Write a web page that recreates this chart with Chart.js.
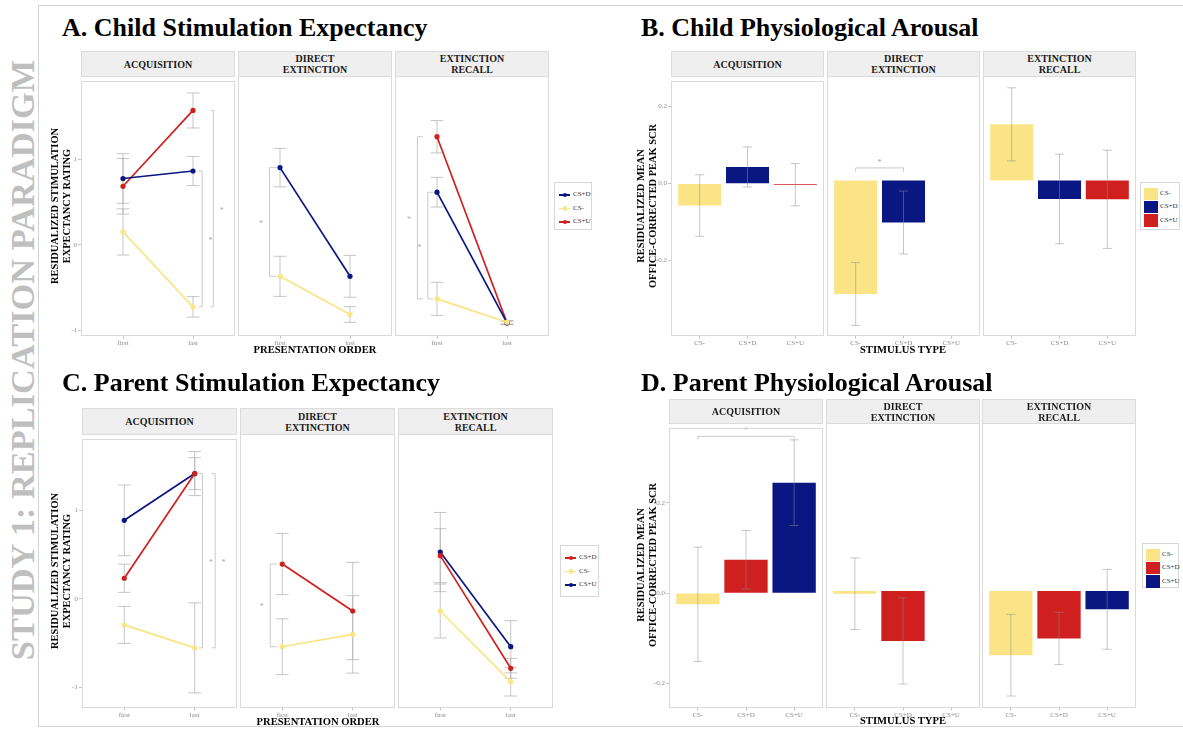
<!DOCTYPE html>
<html><head><meta charset="utf-8">
<script src="https://cdn.jsdelivr.net/npm/chart.js@4.4.1/dist/chart.umd.min.js"></script>
<style>
html,body{margin:0;padding:0;background:#fff;}
body{width:1183px;height:731px;overflow:hidden;position:relative;font-family:"Liberation Serif","Times New Roman",serif;}
.frame{position:absolute;left:38px;top:5px;width:1150px;height:722px;border:1px solid #d4d4d4;box-sizing:border-box;}
.side{position:absolute;left:22px;top:360px;transform:translate(-50%,-50%) rotate(-90deg);white-space:nowrap;font-weight:bold;font-size:34.4px;color:#bfbfbf;line-height:1;}
.ptitle{position:absolute;font-weight:bold;font-size:26px;line-height:26px;white-space:nowrap;color:#000;}
.strip{position:absolute;background:#efefef;border:1px solid #dcdcdc;box-sizing:border-box;display:flex;align-items:center;justify-content:center;text-align:center;font-weight:bold;font-size:10px;line-height:11px;white-space:pre-line;color:#1a1a1a;}
.ytitle{position:absolute;transform:translate(-50%,-50%) rotate(-90deg);white-space:nowrap;text-align:center;font-weight:bold;font-size:10.4px;line-height:12px;color:#000;}
.xtitle{position:absolute;transform:translate(-50%,-50%);white-space:nowrap;font-weight:bold;font-size:10.6px;line-height:12px;color:#000;}
.legend{position:absolute;border:1px solid #d8d8d8;background:#fff;box-sizing:border-box;}
.lrow{position:absolute;left:0;right:0;height:13px;font-size:7px;line-height:13px;color:#333;}
</style>
</head><body>
<div class="frame"></div>
<div class="side">STUDY 1: REPLICATION PARADIGM</div>
<script>
// ---------------- DATA ----------------
const ORDER_CATS = ['first', 'last'];
const STIM_CATS = ['CS-', 'CS+D', 'CS+U'];
const PHASES = ['ACQUISITION', 'DIRECT\nEXTINCTION', 'EXTINCTION\nRECALL'];
const EXP_TICKS = [-1, 0, 1];
const SCR_TICKS = [-0.2, 0, 0.2];

// A. Child stimulation expectancy (first / last), means and error half-widths
const childAcqCSD = [0.777, 0.865];   const childAcqCSDErr = [0.29, 0.17];
const childAcqCSm = [0.152, -0.724];  const childAcqCSmErr = [0.27, 0.12];
const childAcqCSU = [0.686, 1.573];   const childAcqCSUErr = [0.325, 0.205];
const childDextCSD = [0.865, -0.381]; const childDextCSDErr = [0.22, 0.24];
const childDextCSm = [-0.381, -0.819];const childDextCSmErr = [0.23, 0.09];
const childRecCSD = [0.583, -0.914];  const childRecCSDErr = [0.17, 0.02];
const childRecCSm = [-0.64, -0.907];  const childRecCSmErr = [0.19, 0.02];
const childRecCSU = [1.219, -0.914];  const childRecCSUErr = [0.185, 0.02];

// B. Child physiological arousal (CS-, CS+D, CS+U)
const childScrAcq = [-0.057, 0.043, -0.003];  const childScrAcqErr = [0.08, 0.052, 0.055];
const childScrDext = [-0.289, -0.107, null];  const childScrDextErr = [0.08, 0.08, null];
const childScrRec = [0.143, -0.047, -0.048];  const childScrRecErr = [0.093, 0.114, 0.125];

// C. Parent stimulation expectancy
const parAcqCSD = [0.233, 1.419];     const parAcqCSDErr = [0.16, 0.18];
const parAcqCSm = [-0.296, -0.556];   const parAcqCSmErr = [0.21, 0.51];
const parAcqCSU = [0.889, 1.419];     const parAcqCSUErr = [0.40, 0.25];
const parDextCSD = [0.363, -0.159];   const parDextCSDErr = [0.34, 0.54];
const parDextCSm = [-0.556, -0.419];  const parDextCSmErr = [0.31, 0.43];
const parRecCSD = [0.456, -0.796];    const parRecCSDErr = [0.30, 0.11];
const parRecCSm = [-0.159, -0.944];   const parRecCSmErr = [0.30, 0.16];
const parRecCSU = [0.496, -0.556];    const parRecCSUErr = [0.44, 0.29];

// D. Parent physiological arousal
const parScrAcq = [-0.025, 0.074, 0.245];   const parScrAcqErr = [0.127, 0.065, 0.095];
const parScrDext = [-0.006, -0.109, null];  const parScrDextErr = [0.078, 0.094, null];
const parScrRec = [-0.14, -0.1035, -0.04];  const parScrRecErr = [0.089, 0.057, 0.087];

// ---------------- STYLE ----------------
const SERIF = '"Liberation Serif","Times New Roman",serif';
const NAVY = '#0a1682', RED = '#cf1f1f', YEL = '#fbe486';
const TICKC = '#8c8c8c';
const YW = 22, XH = 15;

// ---------------- HELPERS ----------------
function el(cls, css, html) {
  const d = document.createElement('div');
  d.className = cls; d.style.cssText = css; d.innerHTML = html;
  document.body.appendChild(d); return d;
}

function makeFacet(o) {
  const yw = o.withY ? YW : 0;
  const cw = o.w + yw, ch = o.h + XH;
  const cv = document.createElement('canvas');
  cv.width = cw; cv.height = ch;
  cv.style.cssText = `position:absolute;left:${o.left - yw}px;top:${o.top}px;width:${cw}px;height:${ch}px;`;
  document.body.appendChild(cv);

  const drawErr = (chart) => {
    const xs = chart.scales.x, ys = chart.scales.y, ctx = chart.ctx;
    ctx.save();
    ctx.strokeStyle = o.type === 'bar' ? 'rgba(140,140,140,0.55)' : 'rgba(170,170,170,0.75)';
    ctx.lineWidth = 0.9;
    o.errs.forEach(s => {
      s.vals.forEach((v, i) => {
        const e = s.errs[i];
        if (v === null || e === null) return;
        const px = xs.getPixelForValue(i + 1);
        const cap = xs.getPixelForValue(i + 1 + o.capHalf) - px;
        const t = ys.getPixelForValue(v + e), b = ys.getPixelForValue(v - e);
        ctx.beginPath();
        ctx.moveTo(px, t); ctx.lineTo(px, b);
        ctx.moveTo(px - cap, t); ctx.lineTo(px + cap, t);
        ctx.moveTo(px - cap, b); ctx.lineTo(px + cap, b);
        ctx.stroke();
      });
    });
    ctx.restore();
  };
  const drawSig = (chart) => {
    const xs = chart.scales.x, ys = chart.scales.y, ctx = chart.ctx;
    ctx.save();
    ctx.strokeStyle = '#c4c4c4'; ctx.lineWidth = 0.9;
    ctx.fillStyle = '#a8a8a8'; ctx.font = '8px ' + SERIF;
    ctx.textAlign = 'center'; ctx.textBaseline = 'middle';
    (o.vbrackets || []).forEach(b => {
      const x = xs.getPixelForValue(b.x), xt = xs.getPixelForValue(b.x + b.tick);
      const y1 = ys.getPixelForValue(b.from), y2 = ys.getPixelForValue(b.to);
      ctx.beginPath();
      ctx.moveTo(xt, y1); ctx.lineTo(x, y1); ctx.lineTo(x, y2); ctx.lineTo(xt, y2);
      ctx.stroke();
      const lx = xs.getPixelForValue(b.x - Math.sign(b.tick) * 0.12);
      ctx.fillText('*', lx, ys.getPixelForValue((b.from + b.to) / 2) + 2);
    });
    (o.hbrackets || []).forEach(b => {
      const x1 = xs.getPixelForValue(b.x1), x2 = xs.getPixelForValue(b.x2);
      const y = ys.getPixelForValue(b.y), yd = ys.getPixelForValue(b.y - b.drop);
      ctx.beginPath();
      ctx.moveTo(x1, yd); ctx.lineTo(x1, y); ctx.lineTo(x2, y); ctx.lineTo(x2, yd);
      ctx.stroke();
      ctx.fillText('*', (x1 + x2) / 2, ys.getPixelForValue(b.y) - 5);
    });
    ctx.restore();
  };
  const facetPlugin = {
    id: 'facet',
    beforeDatasetsDraw(chart) { if (o.type === 'line') drawErr(chart); },
    afterDatasetsDraw(chart) {
      if (o.type === 'bar') drawErr(chart);
      drawSig(chart);
      const a = chart.chartArea, ctx = chart.ctx;
      ctx.save(); ctx.strokeStyle = '#dadada'; ctx.lineWidth = 1;
      ctx.strokeRect(Math.round(a.left) + 0.5, Math.round(a.top) + 0.5, Math.round(a.right - a.left) - 1, Math.round(a.bottom - a.top) - 1);
      ctx.restore();
    }
  };

  const tickFont = { family: SERIF, size: 7 };
  new Chart(cv, {
    type: o.type,
    data: { datasets: o.datasets },
    options: {
      responsive: false, animation: false, devicePixelRatio: 1, events: [],
      layout: { padding: 0, autoPadding: false },
      plugins: { legend: { display: false }, tooltip: { enabled: false } },
      datasets: { bar: { barPercentage: 0.9, categoryPercentage: 1, borderWidth: 0 } },
      scales: {
        x: {
          type: 'linear', min: o.xMin, max: o.xMax, offset: false,
          afterBuildTicks: s => { s.ticks = o.xCats.map((c, i) => ({ value: i + 1 })); },
          afterFit: s => { s.height = XH; },
          ticks: { callback: v => o.xCats[Math.round(v) - 1], color: TICKC, font: tickFont, padding: 0, maxRotation: 0, autoSkip: false },
          grid: { drawOnChartArea: false, offset: false, tickLength: 2.5, color: '#b4b4b4', lineWidth: 0.8 },
          border: { display: false }
        },
        y: {
          type: 'linear', min: o.yMin, max: o.yMax, display: o.withY,
          afterBuildTicks: s => { s.ticks = o.yTicks.map(v => ({ value: v })); },
          afterFit: s => { s.width = yw; },
          ticks: { callback: v => o.yFmt(v), color: TICKC, font: tickFont, padding: 1, autoSkip: false },
          grid: { drawOnChartArea: false, tickLength: 3, color: '#b4b4b4', lineWidth: 0.8 },
          border: { display: false }
        }
      }
    },
    plugins: [facetPlugin]
  });
}

function lineDs(vals, color) {
  return {
    data: vals.map((v, i) => ({ x: i + 1, y: v })),
    borderColor: color, backgroundColor: color, borderWidth: 1.7,
    pointRadius: 2.6, pointBorderWidth: 0, pointBackgroundColor: color, tension: 0, clip: false
  };
}
function barDs(vals, colors) {
  const pts = [], cols = [];
  vals.forEach((v, i) => { if (v !== null) { pts.push({ x: i + 1, y: v }); cols.push(colors[i]); } });
  return { data: pts, backgroundColor: cols, borderWidth: 0 };
}

function strips(lefts, top, w, h) {
  lefts.forEach((l, i) => el('strip', `left:${l}px;top:${top}px;width:${w}px;height:${h + 1}px;`, PHASES[i]));
}

function lineLegend(x, y, w, h, items) {
  const box = el('legend', `left:${x}px;top:${y}px;width:${w}px;height:${h}px;`, '');
  items.forEach((it, i) => {
    const r = document.createElement('div');
    r.className = 'lrow'; r.style.top = (5 + i * 13.5) + 'px';
    r.innerHTML = `<span style="position:absolute;left:4px;top:6px;width:11px;height:1.6px;background:${it.color}"></span>` +
      `<span style="position:absolute;left:7.5px;top:4.5px;width:4.6px;height:4.6px;border-radius:50%;background:${it.color}"></span>` +
      `<span style="position:absolute;left:18px;">${it.name}</span>`;
    box.appendChild(r);
  });
}
function barLegend(x, y, w, h, items) {
  const box = el('legend', `left:${x}px;top:${y}px;width:${w}px;height:${h}px;`, '');
  items.forEach((it, i) => {
    const r = document.createElement('div');
    r.className = 'lrow'; r.style.top = (4 + i * 13.3) + 'px';
    r.innerHTML = `<span style="position:absolute;left:3px;top:0.5px;width:14px;height:12.5px;background:${it.color}"></span>` +
      `<span style="position:absolute;left:19px;">${it.name}</span>`;
    box.appendChild(r);
  });
}

const expFmt = v => String(Math.round(v));
const scrFmt = v => v.toFixed(1);

// ---------------- PANEL A ----------------
el('ptitle', 'left:62px;top:15px;', 'A. Child Stimulation Expectancy');
const aL = [81, 238, 395], aW = 154, aT = 76, aH = 260;
strips(aL, 51, aW, 25);
const aCommon = { w: aW, h: aH, top: aT, type: 'line', xMin: 0.4, xMax: 2.6, yMin: -1.065, yMax: 1.915, xCats: ORDER_CATS, yTicks: EXP_TICKS, yFmt: expFmt, capHalf: 0.09 };
makeFacet(Object.assign({}, aCommon, {
  left: aL[0], withY: true,
  datasets: [lineDs(childAcqCSm, YEL), lineDs(childAcqCSD, NAVY), lineDs(childAcqCSU, RED)],
  errs: [{ vals: childAcqCSD, errs: childAcqCSDErr }, { vals: childAcqCSm, errs: childAcqCSmErr }, { vals: childAcqCSU, errs: childAcqCSUErr }],
  vbrackets: [
    { x: 2.13, tick: -0.05, from: childAcqCSD[1], to: childAcqCSm[1] },
    { x: 2.29, tick: -0.04, from: childAcqCSU[1], to: childAcqCSm[1] }
  ]
}));
makeFacet(Object.assign({}, aCommon, {
  left: aL[1], withY: false,
  datasets: [lineDs(childDextCSm, YEL), lineDs(childDextCSD, NAVY)],
  errs: [{ vals: childDextCSD, errs: childDextCSDErr }, { vals: childDextCSm, errs: childDextCSmErr }],
  vbrackets: [{ x: 0.85, tick: 0.1, from: childDextCSD[0], to: childDextCSm[0] }]
}));
makeFacet(Object.assign({}, aCommon, {
  left: aL[2], withY: false,
  datasets: [lineDs(childRecCSm, YEL), lineDs(childRecCSD, NAVY), lineDs(childRecCSU, RED)],
  errs: [{ vals: childRecCSD, errs: childRecCSDErr }, { vals: childRecCSm, errs: childRecCSmErr }, { vals: childRecCSU, errs: childRecCSUErr }],
  vbrackets: [
    { x: 0.72, tick: 0.08, from: childRecCSU[0], to: childRecCSm[0] },
    { x: 0.87, tick: 0.08, from: childRecCSD[0], to: childRecCSm[0] }
  ]
}));
el('ytitle', 'left:61px;top:206px;', 'RESIDUALIZED STIMULATION<br>EXPECTANCY RATING');
el('xtitle', 'left:315px;top:350px;', 'PRESENTATION ORDER');
lineLegend(554, 182, 38, 48, [{ name: 'CS+D', color: NAVY }, { name: 'CS-', color: YEL }, { name: 'CS+U', color: RED }]);

// ---------------- PANEL B ----------------
el('ptitle', 'left:641px;top:15px;', 'B. Child Physiological Arousal');
const bL = [671, 827, 983], bW = 153, bT = 76, bH = 260;
strips(bL, 51, bW, 25);
const bCols = [YEL, NAVY, RED];
const bCommon = { w: bW, h: bH, top: bT, type: 'bar', xMin: 0.4, xMax: 3.6, yMin: -0.396, yMax: 0.266, xCats: STIM_CATS, yTicks: SCR_TICKS, yFmt: scrFmt, capHalf: 0.095 };
makeFacet(Object.assign({}, bCommon, { left: bL[0], withY: true, datasets: [barDs(childScrAcq, bCols)], errs: [{ vals: childScrAcq, errs: childScrAcqErr }] }));
makeFacet(Object.assign({}, bCommon, { left: bL[1], withY: false, datasets: [barDs(childScrDext, bCols)], errs: [{ vals: childScrDext, errs: childScrDextErr }],
  hbrackets: [{ x1: 1, x2: 2, y: 0.032, drop: 0.01 }] }));
makeFacet(Object.assign({}, bCommon, { left: bL[2], withY: false, datasets: [barDs(childScrRec, bCols)], errs: [{ vals: childScrRec, errs: childScrRecErr }] }));
el('ytitle', 'left:646.5px;top:206px;', 'RESIDUALIZED MEAN<br>OFFICE-CORRECTED PEAK SCR');
el('xtitle', 'left:903px;top:350px;', 'STIMULUS TYPE');
barLegend(1140, 182, 40, 48, STIM_CATS.map((c, i) => ({ name: c, color: bCols[i] })));

// ---------------- PANEL C ----------------
el('ptitle', 'left:62px;top:370px;', 'C. Parent Stimulation Expectancy');
const cL = [82, 240, 398], cW = 155, cT = 434, cH = 274;
strips(cL, 408, cW, 26);
const cCommon = { w: cW, h: cH, top: cT, type: 'line', xMin: 0.4, xMax: 2.6, yMin: -1.237, yMax: 1.808, xCats: ORDER_CATS, yTicks: EXP_TICKS, yFmt: expFmt, capHalf: 0.09 };
makeFacet(Object.assign({}, cCommon, {
  left: cL[0], withY: true,
  datasets: [lineDs(parAcqCSm, YEL), lineDs(parAcqCSD, RED), lineDs(parAcqCSU, NAVY)],
  errs: [{ vals: parAcqCSD, errs: parAcqCSDErr }, { vals: parAcqCSm, errs: parAcqCSmErr }, { vals: parAcqCSU, errs: parAcqCSUErr }],
  vbrackets: [
    { x: 2.11, tick: -0.05, from: parAcqCSU[1], to: parAcqCSm[1] },
    { x: 2.29, tick: -0.05, from: parAcqCSD[1], to: parAcqCSm[1] }
  ]
}));
makeFacet(Object.assign({}, cCommon, {
  left: cL[1], withY: false,
  datasets: [lineDs(parDextCSm, YEL), lineDs(parDextCSD, RED)],
  errs: [{ vals: parDextCSD, errs: parDextCSDErr }, { vals: parDextCSm, errs: parDextCSmErr }],
  vbrackets: [{ x: 0.83, tick: 0.09, from: parDextCSD[0], to: parDextCSm[0] }]
}));
makeFacet(Object.assign({}, cCommon, {
  left: cL[2], withY: false,
  datasets: [lineDs(parRecCSm, YEL), lineDs(parRecCSD, RED), lineDs(parRecCSU, NAVY)],
  errs: [{ vals: parRecCSD, errs: parRecCSDErr }, { vals: parRecCSm, errs: parRecCSmErr }, { vals: parRecCSU, errs: parRecCSUErr }]
}));
el('ytitle', 'left:61px;top:571px;', 'RESIDUALIZED STIMULATION<br>EXPECTANCY RATING');
el('xtitle', 'left:318px;top:722px;', 'PRESENTATION ORDER');
lineLegend(560, 545, 39, 52, [{ name: 'CS+D', color: RED }, { name: 'CS-', color: YEL }, { name: 'CS+U', color: NAVY }]);

// ---------------- PANEL D ----------------
el('ptitle', 'left:641px;top:370px;', 'D. Parent Physiological Arousal');
const dL = [669, 826, 982], dW = 154, dT = 423, dH = 285;
strips(dL, 399, dW, 24);
const dCols = [YEL, RED, NAVY];
const dCommon = { w: dW, h: dH, top: dT, type: 'bar', xMin: 0.4, xMax: 3.6, yMin: -0.255, yMax: 0.366, xCats: STIM_CATS, yTicks: SCR_TICKS, yFmt: scrFmt, capHalf: 0.095 };
makeFacet(Object.assign({}, dCommon, { left: dL[0], withY: true, datasets: [barDs(parScrAcq, dCols)], errs: [{ vals: parScrAcq, errs: parScrAcqErr }],
  hbrackets: [{ x1: 1, x2: 3, y: 0.348, drop: 0.007 }] }));
makeFacet(Object.assign({}, dCommon, { left: dL[1], withY: false, datasets: [barDs(parScrDext, dCols)], errs: [{ vals: parScrDext, errs: parScrDextErr }] }));
makeFacet(Object.assign({}, dCommon, { left: dL[2], withY: false, datasets: [barDs(parScrRec, dCols)], errs: [{ vals: parScrRec, errs: parScrRecErr }] }));
el('ytitle', 'left:646.5px;top:565px;', 'RESIDUALIZED MEAN<br>OFFICE-CORRECTED PEAK SCR');
el('xtitle', 'left:903px;top:721px;', 'STIMULUS TYPE');
barLegend(1142, 543, 37, 45, STIM_CATS.map((c, i) => ({ name: c, color: dCols[i] })));
</script>
</body></html>
